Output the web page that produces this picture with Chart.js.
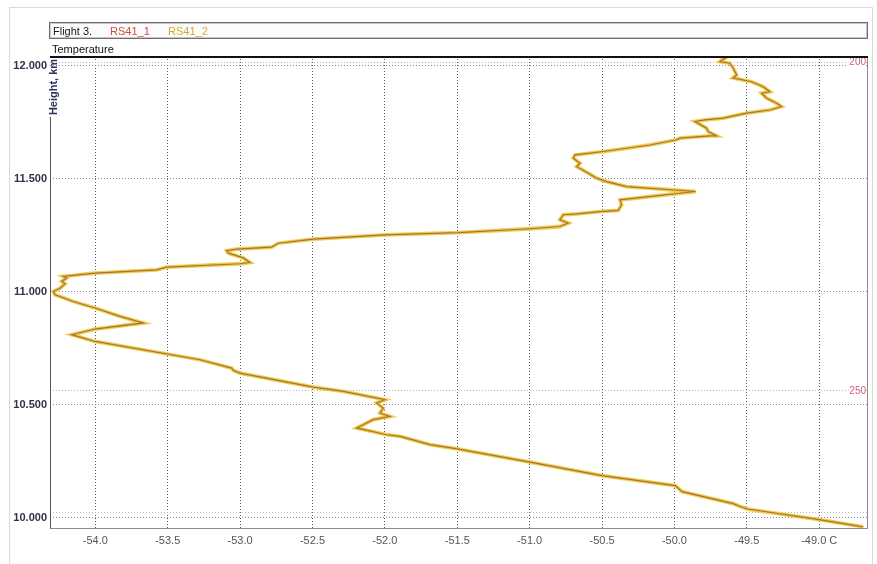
<!DOCTYPE html>
<html>
<head>
<meta charset="utf-8">
<script src="https://cdn.jsdelivr.net/npm/chart.js@4.4.1/dist/chart.umd.min.js"></script>
<style>
  html, body { margin: 0; padding: 0; background: #fff; }
  canvas { display: block; }
</style>
</head>
<body>
<canvas id="c" width="877" height="564"></canvas>
<script>
// Flight 3 temperature profile: height (km) against temperature (°C), two RS41 sondes
const heightKm = [
  9.959, 9.991, 10.038, 10.049, 10.062, 10.115, 10.142, 10.186, 10.246, 10.304,
  10.323, 10.360, 10.367, 10.397, 10.434, 10.448, 10.463, 10.485, 10.508, 10.522,
  10.559, 10.578, 10.640, 10.652, 10.662, 10.699, 10.780, 10.810, 10.835, 10.862,
  10.891, 10.928, 10.957, 10.987, 11.001, 11.016, 11.035, 11.046, 11.061, 11.068,
  11.083, 11.097, 11.109, 11.124, 11.130, 11.150, 11.171, 11.182, 11.189, 11.198,
  11.215, 11.233, 11.252, 11.262, 11.279, 11.289, 11.304, 11.319, 11.341, 11.345,
  11.355, 11.360, 11.385, 11.407, 11.444, 11.466, 11.488, 11.503, 11.525, 11.554,
  11.569, 11.592, 11.606, 11.621, 11.650, 11.673, 11.680, 11.690, 11.690, 11.709,
  11.724, 11.754, 11.761, 11.769, 11.791, 11.805, 11.820, 11.835, 11.857, 11.879,
  11.886, 11.908, 11.930, 11.947, 11.960, 11.990, 12.012, 12.019, 12.034, 12.044
];
const tempRS41_1 = [
  -48.696, -49.000, -49.494, -49.546, -49.594, -49.947, -49.995, -50.501, -50.998, -51.500,
  -51.689, -51.894, -51.988, -52.195, -52.080, -51.965, -52.034, -52.011, -52.057, -51.999,
  -52.287, -52.494, -53.001, -53.047, -53.058, -53.277, -54.002, -54.163, -54.002, -53.669,
  -53.829, -54.002, -54.152, -54.278, -54.290, -54.244, -54.209, -54.232, -54.198, -54.221,
  -54.002, -53.576, -53.507, -53.001, -52.932, -52.978, -53.081, -53.093, -53.023, -52.782,
  -52.736, -52.494, -51.999, -51.493, -50.998, -50.791, -50.733, -50.791, -50.768, -50.675,
  -50.514, -50.388, -50.365, -50.376, -49.854, -50.330, -50.468, -50.537, -50.595, -50.675,
  -50.653, -50.699, -50.687, -50.492, -50.169, -49.985, -49.962, -49.755, -49.709, -49.767,
  -49.778, -49.858, -49.789, -49.663, -49.501, -49.341, -49.260, -49.294, -49.363, -49.398,
  -49.341, -49.387, -49.467, -49.596, -49.570, -49.594, -49.617, -49.686, -49.651, -49.698
];
const tempRS41_2 = [
  -48.696, -49.000, -49.494, -49.546, -49.594, -49.947, -49.995, -50.501, -50.998, -51.500,
  -51.689, -51.894, -51.988, -52.195, -52.080, -51.965, -52.034, -52.011, -52.057, -51.999,
  -52.287, -52.494, -53.001, -53.047, -53.058, -53.277, -54.002, -54.163, -54.002, -53.669,
  -53.829, -54.002, -54.152, -54.278, -54.290, -54.244, -54.209, -54.232, -54.198, -54.221,
  -54.002, -53.576, -53.507, -53.001, -52.932, -52.978, -53.081, -53.093, -53.023, -52.782,
  -52.736, -52.494, -51.999, -51.493, -50.998, -50.791, -50.733, -50.791, -50.768, -50.675,
  -50.514, -50.388, -50.365, -50.376, -49.854, -50.330, -50.468, -50.537, -50.595, -50.675,
  -50.653, -50.699, -50.687, -50.492, -50.169, -49.985, -49.962, -49.755, -49.709, -49.767,
  -49.778, -49.858, -49.789, -49.663, -49.501, -49.341, -49.260, -49.294, -49.363, -49.398,
  -49.341, -49.387, -49.467, -49.596, -49.570, -49.594, -49.617, -49.686, -49.651, -49.698
];

const seriesNames = ['RS41_1', 'RS41_2'];
const flightTitle = 'Flight 3.';
const xAxisTitle = 'Temperature';
const yAxisTitle = 'Height, km';

const xTickValues = [-54.0, -53.5, -53.0, -52.5, -52.0, -51.5, -51.0, -50.5, -50.0, -49.5, -49.0];
const xTickLabels = ['-54.0', '-53.5', '-53.0', '-52.5', '-52.0', '-51.5', '-51.0', '-50.5', '-50.0', '-49.5', '-49.0 C'];
const yTickValues = [10.0, 10.5, 11.0, 11.5, 12.0];
const yTickLabels = ['10.000', '10.500', '11.000', '11.500', '12.000'];

// isobaric reference levels (hPa) and their heights
const pressureLabels = ['200', '250', ''];
const pressureHeights = [12.017, 10.563, 10.025];

const toPoints = (temps) => temps.map((t, i) => ({ x: t, y: heightKm[i] }));

const FONT = '"Liberation Sans", Arial, sans-serif';

const decorPlugin = {
  id: 'decor',
  beforeDraw(chart) {
    const ctx = chart.ctx;
    ctx.save();
    ctx.fillStyle = '#ffffff';
    ctx.fillRect(0, 0, chart.width, chart.height);
    ctx.strokeStyle = '#dadada';
    ctx.lineWidth = 1;
    ctx.strokeRect(9.5, 7.5, 863, 560);
    ctx.restore();
  },
  beforeDatasetsDraw(chart) {
    const { ctx, chartArea: a, scales: { y } } = chart;
    ctx.save();
    ctx.strokeStyle = '#b4b4b4';
    ctx.lineWidth = 1;
    ctx.setLineDash([1, 2]);
    pressureHeights.forEach((h) => {
      const py = Math.round(y.getPixelForValue(h)) + 0.5;
      ctx.beginPath();
      ctx.moveTo(a.left, py);
      ctx.lineTo(a.right, py);
      ctx.stroke();
    });
    ctx.setLineDash([]);
    ctx.font = '10px ' + FONT;
    ctx.textAlign = 'right';
    ctx.textBaseline = 'middle';
    pressureHeights.forEach((h, i) => {
      if (!pressureLabels[i]) return;
      const py = y.getPixelForValue(h);
      ctx.fillStyle = '#ffffff';
      const w = ctx.measureText(pressureLabels[i]).width;
      ctx.fillRect(a.right - w - 2, py - 5, w + 1, 10);
      ctx.fillStyle = '#d0607a';
      ctx.fillText(pressureLabels[i], a.right - 1, py + 0.5);
    });
    ctx.restore();
  },
  afterDraw(chart) {
    const { ctx, chartArea: a } = chart;
    ctx.save();
    // plot frame
    ctx.lineWidth = 1;
    ctx.strokeStyle = '#8c8c8c';
    ctx.beginPath();
    ctx.moveTo(a.right + 0.5, a.top);
    ctx.lineTo(a.right + 0.5, a.bottom + 0.5);
    ctx.lineTo(a.left, a.bottom + 0.5);
    ctx.stroke();
    ctx.strokeStyle = '#555555';
    ctx.beginPath();
    ctx.moveTo(a.left + 0.5, 117);
    ctx.lineTo(a.left + 0.5, a.bottom + 0.5);
    ctx.stroke();
    ctx.strokeStyle = '#111111';
    ctx.lineWidth = 2;
    ctx.beginPath();
    ctx.moveTo(a.left, a.top + 1);
    ctx.lineTo(a.right + 1, a.top + 1);
    ctx.stroke();

    // title box with series names
    ctx.lineWidth = 1;
    ctx.fillStyle = '#fbfbfb';
    ctx.fillRect(49.5, 22.5, 818, 16);
    ctx.strokeStyle = '#6e6e6e';
    ctx.strokeRect(49.5, 22.5, 818, 16);
    ctx.strokeStyle = '#c8c8c8';
    ctx.strokeRect(50.5, 23.5, 816, 14);
    ctx.font = '11px ' + FONT;
    ctx.textBaseline = 'alphabetic';
    ctx.textAlign = 'left';
    ctx.fillStyle = '#1a1a1a';
    ctx.fillText(flightTitle, 53, 35);
    ctx.fillStyle = '#d24a3c';
    ctx.fillText(seriesNames[0], 110, 35);
    ctx.fillStyle = '#d6aa2c';
    ctx.fillText(seriesNames[1], 168, 35);

    // axis captions
    ctx.fillStyle = '#111111';
    ctx.fillText(xAxisTitle, 52, 53);
    ctx.translate(54, 87);
    ctx.rotate(-Math.PI / 2);
    ctx.font = 'bold 11px ' + FONT;
    ctx.fillStyle = '#2b3060';
    ctx.textAlign = 'center';
    ctx.textBaseline = 'middle';
    ctx.fillText(yAxisTitle, 0, 0);
    ctx.restore();
  }
};

new Chart(document.getElementById('c'), {
  type: 'scatter',
  data: {
    datasets: [
      {
        label: seriesNames[0],
        data: toPoints(tempRS41_1),
        showLine: true,
        borderColor: '#a8742c',
        borderWidth: 1.2,
        pointRadius: 0,
        tension: 0
      },
      {
        label: seriesNames[1],
        data: toPoints(tempRS41_2),
        showLine: true,
        borderColor: '#f0cc55',
        borderWidth: 3.8,
        pointRadius: 0,
        tension: 0
      }
    ]
  },
  options: {
    responsive: false,
    animation: false,
    devicePixelRatio: 1,
    layout: { padding: { top: 56, right: 10, left: 0, bottom: 0 } },
    plugins: {
      legend: { display: false },
      tooltip: { enabled: false }
    },
    scales: {
      x: {
        type: 'linear',
        position: 'bottom',
        min: -54.313,
        max: -48.67,
        afterBuildTicks: (s) => { s.ticks = xTickValues.map((v) => ({ value: v })); },
        afterFit: (s) => { s.height = 36; },
        ticks: {
          autoSkip: false,
          maxRotation: 0,
          padding: 6,
          color: '#555555',
          font: { family: FONT, size: 11 },
          callback: (v, i) => xTickLabels[i]
        },
        grid: { color: '#5e5e5e', lineWidth: 1, drawTicks: false },
        border: { display: false, dash: [1, 2] }
      },
      y: {
        type: 'linear',
        min: 9.954,
        max: 12.044,
        afterBuildTicks: (s) => { s.ticks = yTickValues.map((v) => ({ value: v })); },
        afterFit: (s) => { s.width = 50; },
        ticks: {
          autoSkip: false,
          padding: 3,
          color: '#2e3348',
          font: { family: FONT, size: 11, weight: 'bold' },
          callback: (v, i) => yTickLabels[i]
        },
        grid: { color: '#8a8a8a', lineWidth: 1, drawTicks: false },
        border: { display: false, dash: [1, 2] }
      }
    }
  },
  plugins: [decorPlugin]
});
</script>
</body>
</html>
